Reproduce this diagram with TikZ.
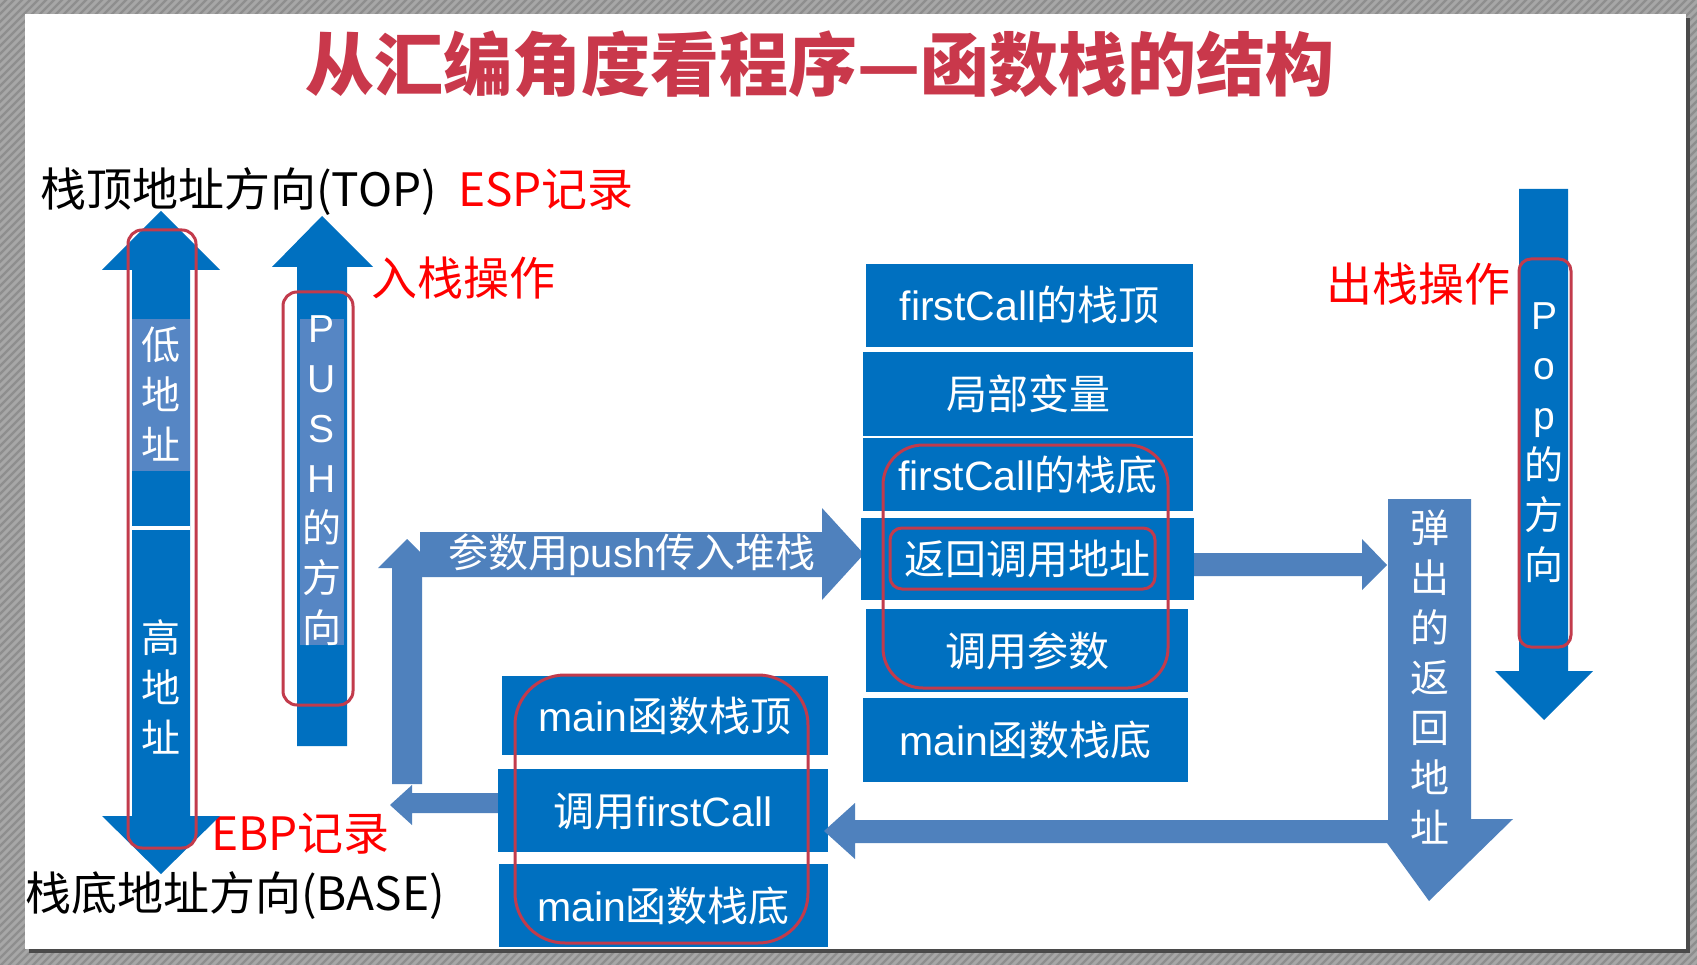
\documentclass[tikz,border=0pt]{standalone}
\usepackage{fontspec}
\setmainfont{Noto Sans CJK SC}
\newfontfamily\lat{Liberation Sans}
\definecolor{dblue}{HTML}{0070C0}
\definecolor{lblue}{HTML}{4F81BD}
\definecolor{pblue}{HTML}{5686C4}
\definecolor{rframe}{HTML}{C23B4C}
\definecolor{ttl}{HTML}{C9384B}
\definecolor{bggray}{HTML}{8E8E8E}
\definecolor{stripe}{HTML}{A7A7A7}
\definecolor{shadowc}{HTML}{4A4A4A}
\definecolor{lred}{HTML}{FF0000}
\begin{document}
\begin{tikzpicture}[x=1pt,y=-1pt,
  stk/.style={fill=dblue, inner sep=0pt, text=white, font=\fontsize{41}{41}\selectfont,
    text height=36pt, text depth=5pt},
  vtxt/.style={text=white, inner sep=0pt, align=center, font=\fontsize{39}{50}\selectfont},
  lbl/.style={anchor=west, inner sep=0pt, font=\fontsize{46}{46}\selectfont,
    text height=40.5pt, text depth=5.5pt},
  redlbl/.style={lbl, text=lred},
  frame/.style={draw=rframe, line width=3pt},
  lshape/.style={fill=lblue},
  dshape/.style={fill=dblue}]
\useasboundingbox (0,0) rectangle (1697,965);
% background with stripes
\begin{scope}
\clip (0,0) rectangle (1697,965);
\fill[bggray] (0,0) rectangle (1697,965);
\foreach \i in {-1000,-992,...,1700} \draw[stripe, line width=3pt] (\i,970) -- ++(975,-975);
\end{scope}
\fill[shadowc] (29,18) rectangle (1690,953);
\fill[white] (25,14) rectangle (1686,949);

% title
\node[font=\fontsize{69}{69}\selectfont\bfseries, text=ttl, inner sep=0pt,
  text height=61pt, text depth=8pt] (title) at (820,64) {从汇编角度看程序—函数栈的结构};

% labels
\node[lbl] (toplbl) at (40,189) {栈顶地址方向(TOP)};
\node[redlbl] (esp) at (458,189) {ESP记录};
\node[redlbl] (push) at (371,278) {入栈操作};
\node[redlbl] (pop) at (1326,284) {出栈操作};
\node[redlbl] (ebp) at (211,833) {EBP记录};
\node[lbl] (baselbl) at (25,893) {栈底地址方向(BASE)};

% left double arrow
\fill[dshape] (161,211) -- (220,270) -- (190,270) -- (190,816) -- (220,816) -- (161,874)
  -- (102,816) -- (132,816) -- (132,270) -- (102,270) -- cycle;
\fill[pblue] (132,319) rectangle (190,471);
\fill[white] (132,526) rectangle (190,530);
\node[vtxt] (low) at (161,394) {低\\地\\址};
\node[vtxt] (high) at (161,687) {高\\地\\址};
\draw[frame, rounded corners=14pt] (128,230) rectangle (196,848);

% PUSH arrow
\fill[dshape] (322,216) -- (373,267) -- (347,267) -- (347,746) -- (297,746) -- (297,267) -- (272,267) -- cycle;
\fill[pblue] (300,319) rectangle (344,645);
\node[vtxt] (pushtxt) at (322,481) {{\lat P}\\{\lat U}\\{\lat S}\\{\lat H}\\的\\方\\向};
\draw[frame, rounded corners=14pt] (283,292) rectangle (353,705);

% bent arrow (push parameters)
\fill[lshape] (392,784) -- (392,568) -- (378,568) -- (407,539) -- (436,568) -- (422,568) -- (422,784) -- cycle;
\fill[lshape] (420,532) -- (822,532) -- (822,508) -- (864,554) -- (822,600) -- (822,577) -- (420,577) -- cycle;
\node[text=white, inner sep=0pt, font=\fontsize{40}{40}\selectfont, text height=35pt, text depth=5pt]
  (pushparam) at (632,552) {参数用{\lat push}传入堆栈};

% arrow back from main stack
\fill[lshape] (498,793) -- (412,793) -- (412,785) -- (390,805) -- (412,825) -- (412,813) -- (498,813) -- cycle;

% main stack
\node[stk, minimum width=326pt, minimum height=79pt] (m1) at (665,715.5) {{\lat main}函数栈顶};
\node[stk, minimum width=330pt, minimum height=83pt] (m2) at (663,810.5) {调用{\lat firstCall}};
\node[stk, minimum width=329pt, minimum height=83pt] (m3) at (663.5,905.5) {{\lat main}函数栈底};
\draw[frame, rounded corners=50pt] (515,675) rectangle (808,943);

% return arrow and pop-down arrow
\fill[lshape] (1194,553) -- (1362,553) -- (1362,539) -- (1387,565) -- (1362,590) -- (1362,576) -- (1194,576) -- cycle;
\fill[lshape] (1388,499) -- (1471,499) -- (1471,819) -- (1513,819) -- (1429,901) -- (1387,843)
  -- (855,843) -- (855,859) -- (824,831) -- (855,803) -- (855,820) -- (1388,820) -- cycle;
\node[vtxt] (rettxt) at (1430,677.5) {弹\\出\\的\\返\\回\\地\\址};

% firstCall stack
\node[stk, minimum width=327pt, minimum height=83pt] (f1) at (1029.5,305.5) {{\lat firstCall}的栈顶};
\node[stk, minimum width=330pt, minimum height=84pt] (f2) at (1028,394) {局部变量};
\node[stk, minimum width=330pt, minimum height=73pt] (f3) at (1028,474.5) {{\lat firstCall}的栈底};
\node[stk, minimum width=333pt, minimum height=82pt] (f4) at (1027.5,559) {返回调用地址};
\node[stk, minimum width=322pt, minimum height=83pt] (f5) at (1027,650.5) {调用参数};
\node[stk, minimum width=325pt, minimum height=84pt] (f6) at (1025.5,740) {{\lat main}函数栈底};
\draw[frame, rounded corners=40pt] (883,445) rectangle (1168,688);
\draw[frame, rounded corners=12pt] (890,528) rectangle (1155,589);

% Pop arrow
\fill[dshape] (1519,189) -- (1568,189) -- (1568,671) -- (1593,671) -- (1544,720) -- (1495,671) -- (1519,671) -- cycle;
\node[vtxt] (poptxt) at (1544,442.5) {{\lat P}\\{\lat o}\\{\lat p}\\的\\方\\向};
\draw[frame, rounded corners=12pt] (1519,259) rectangle (1571,647);
\end{tikzpicture}
\end{document}
